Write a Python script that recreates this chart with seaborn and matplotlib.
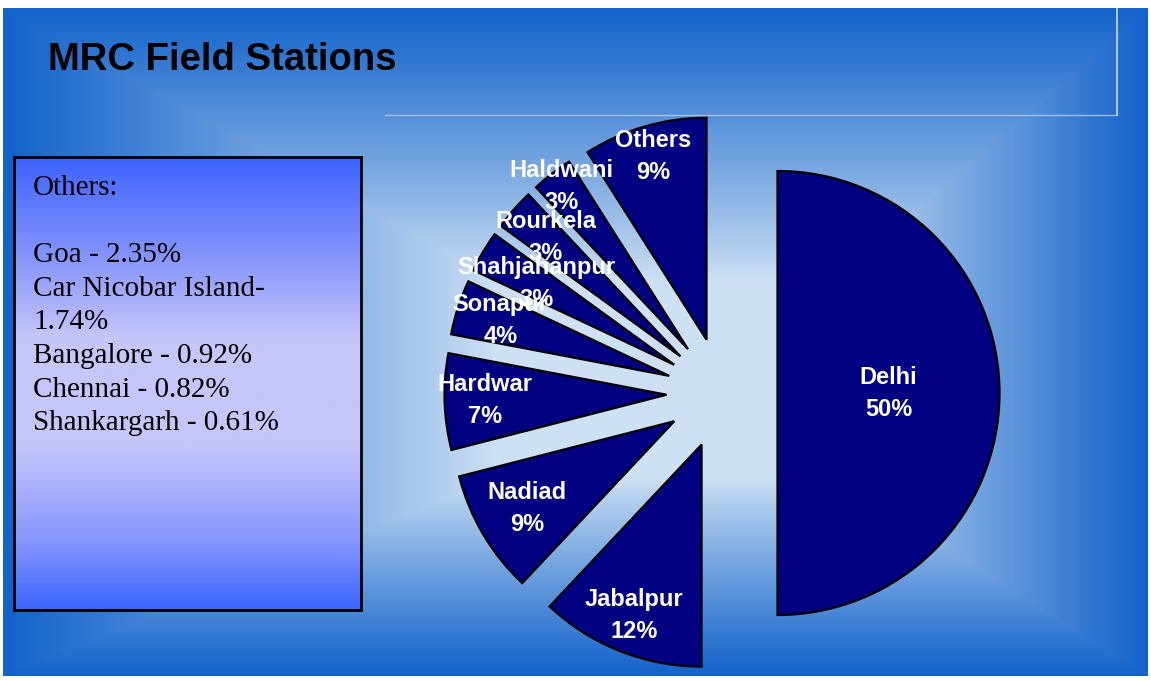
import numpy as np
import matplotlib
matplotlib.use("Agg")
import matplotlib.pyplot as plt
from matplotlib.colors import to_rgb
from matplotlib.lines import Line2D
import seaborn as sns

# Share of work by field station (percent)
stations = ["Delhi", "Jabalpur", "Nadiad", "Hardwar", "Sonapur",
            "Shahjahanpur", "Rourkela", "Haldwani", "Others"]
shares = [50, 12, 9, 7, 4, 3, 3, 3, 9]

# Breakdown of the "Others" slice
other_sites = ["Goa", "Car Nicobar Island", "Bangalore", "Chennai", "Shankargarh"]
other_shares = [2.35, 1.74, 0.92, 0.82, 0.61]

sns.set_theme(style="white")
plt.rcParams["font.family"] = ["Liberation Sans", "DejaVu Sans"]

W, H = 1151, 681
fig = plt.figure(figsize=(W / 100, H / 100), dpi=100, facecolor="white")

# ---- background: rectangular gradient, light in the middle, blue at the edges
bg = fig.add_axes([0, 0, 1, 1])
bg.set_xlim(0, W)
bg.set_ylim(H, 0)
bg.axis("off")
x0, x1, y0, y1 = 3, 1148, 8, 676
xs = np.arange(x0, x1) + 0.5
ys = np.arange(y0, y1) + 0.5
X, Y = np.meshgrid(xs, ys)
cx, cy = 705, 395
tx = np.where(X < cx, (cx - X) / (cx - x0), (X - cx) / (x1 - cx))
ty = np.where(Y < cy, (cy - Y) / (cy - y0), (Y - cy) / (y1 - cy))
t = np.maximum(tx, ty)
f = np.clip((t - 0.3) / 0.7, 0, 1) ** 0.9
light = np.array(to_rgb("#cde0f4"))
dark = np.array(to_rgb("#1262ca"))
img = light[None, None, :] * (1 - f[..., None]) + dark[None, None, :] * f[..., None]
bg.imshow(img, extent=(x0, x1, y1, y0), aspect="auto", interpolation="bilinear")

# faint plot-area outline at the top right
fig.add_artist(Line2D([385 / W, 1117 / W], [1 - 115 / H, 1 - 115 / H],
                      color="#b8cdf0", lw=1, alpha=0.8))
fig.add_artist(Line2D([1117 / W, 1117 / W], [1 - 8 / H, 1 - 115 / H],
                      color="#e0eaf8", lw=1.2, alpha=0.9))

# ---- title
fig.text(48 / W, 1 - 70 / H, "MRC Field Stations", fontsize=27.5,
         fontweight="bold", color="black", va="baseline", ha="left")

# ---- exploded pie
pie_ax = fig.add_axes([(722 - 300) / W, (H - 393 - 300) / H, 600 / W, 600 / H])
pie_ax.patch.set_alpha(0)
explode = [0.25] * len(shares)
wedges, _ = pie_ax.pie(shares, explode=explode, startangle=90, counterclock=False,
                       colors=["#000080"] * len(shares),
                       wedgeprops=dict(edgecolor="black", linewidth=1.6))
lim = 300 / 222
pie_ax.set_xlim(-lim, lim)
pie_ax.set_ylim(-lim, lim)

label_dist = [0.50, 0.83, 0.77, 0.82, 0.80, 0.72, 0.81, 0.93, 0.86]
for w, name, val, d in zip(wedges, stations, shares, label_dist):
    ang = np.deg2rad((w.theta1 + w.theta2) / 2)
    px = w.center[0] + d * w.r * np.cos(ang)
    py = w.center[1] + d * w.r * np.sin(ang)
    pie_ax.text(px, py, f"{name}\n{val}%", ha="center", va="center",
                color="white", fontsize=17, fontweight="bold", linespacing=1.5)

# ---- side panel listing the "Others" breakdown
box = fig.add_axes([14 / W, (H - 610) / H, 347 / W, 453 / H])
stops = [(0.0, "#3e64ff"), (0.2, "#7f8ffc"), (0.40, "#c6c6fa"),
         (0.64, "#c6c6fa"), (0.85, "#8595fd"), (1.0, "#3c64ff")]
grad_y = np.linspace(0, 1, 400)
cols = np.array([to_rgb(c) for _, c in stops])
pos = np.array([p for p, _ in stops])
col = np.stack([np.interp(grad_y, pos, cols[:, k]) for k in range(3)], axis=1)
box.imshow(col[:, None, :], extent=(0, 1, 1, 0), aspect="auto", interpolation="bilinear")
box.set_xlim(0, 1)
box.set_ylim(1, 0)
box.set_xticks([])
box.set_yticks([])
for s in box.spines.values():
    s.set_visible(True)
    s.set_color("black")
    s.set_linewidth(2)

lines = ["Others:", ""]
for site, v in zip(other_sites, other_shares):
    if site == "Car Nicobar Island":
        lines += [f"{site}-", f"{v:.2f}%"]
    else:
        lines.append(f"{site} - {v:.2f}%")
fig.text(33 / W, 1 - 175 / H, "\n".join(lines), fontsize=21, color="black",
         family=["Liberation Serif", "DejaVu Serif"], ha="left", va="top",
         linespacing=1.38)

fig.savefig("out.png", dpi=100, facecolor="white")
